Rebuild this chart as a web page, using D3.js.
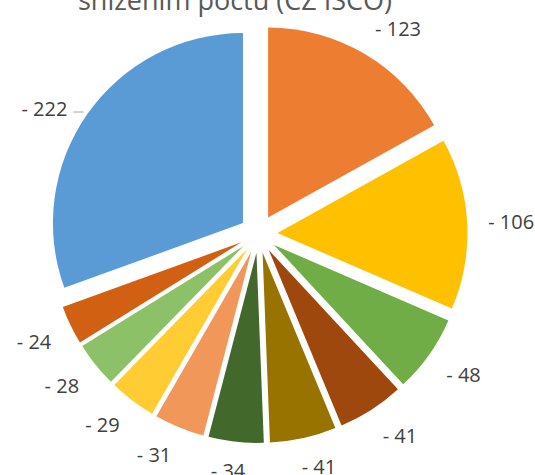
<!DOCTYPE html>
<html>
<head>
<meta charset="utf-8">
<script src="https://cdn.jsdelivr.net/npm/d3@7"></script>
<style>
  html, body { margin: 0; padding: 0; background: #fff; }
  svg { display: block; }
</style>
</head>
<body>
<svg id="chart" width="535" height="475"></svg>
<script>
// ---- data ----
const categories = ["K1", "K2", "K3", "K4", "K5", "K6", "K7", "K8", "K9", "K10", "K11"];
const values = [123, 106, 48, 41, 41, 34, 31, 29, 28, 24, 222];
const colors = ["#ED7D31", "#FFC000", "#70AD47", "#9E480E", "#997300", "#43682B",
                "#F1975A", "#FFCD33", "#8CC168", "#D26012", "#5B9BD5"];
const titleText = "snížením počtu (CZ ISCO)";

// ---- layout ----
const W = 535, H = 475;
const cx = 258.5, cy = 234;
const R = 190;
const explode = 19;
const labelGap = 21;

const svg = d3.select("#chart");

svg.append("text")
  .attr("x", 235).attr("y", 10)
  .attr("text-anchor", "middle")
  .attr("font-family", "'Open Sans', sans-serif")
  .attr("font-size", 27)
  .attr("fill", "#595959")
  .text(titleText);

const data = categories.map((c, i) => ({ cat: c, value: values[i], color: colors[i] }));
const pie = d3.pie().sort(null).value(d => d.value).startAngle(0).endAngle(2 * Math.PI);
const arcs = pie(data);
const arc = d3.arc().innerRadius(0).outerRadius(R);

const g = svg.append("g").attr("transform", `translate(${cx},${cy})`);

arcs.forEach(a => {
  const mid = (a.startAngle + a.endAngle) / 2;
  a.ux = Math.sin(mid);
  a.uy = -Math.cos(mid);
  a.ox = a.ux * explode;
  a.oy = a.uy * explode;
});

g.selectAll("path.slice")
  .data(arcs)
  .join("path")
  .attr("class", "slice")
  .attr("transform", d => `translate(${d.ox},${d.oy})`)
  .attr("d", arc)
  .attr("fill", d => d.data.color);

const clamp = v => Math.max(-1, Math.min(1, v));
const maxVal = d3.max(values);

arcs.forEach(a => {
  const t = g.append("text")
    .attr("font-family", "'Open Sans', sans-serif")
    .attr("font-size", 20)
    .attr("fill", "#404040")
    .text("- " + a.data.value);
  const bb = t.node().getBBox();
  const w = bb.width, h = 15;
  const px = a.ox + a.ux * (R + labelGap);
  const py = a.oy + a.uy * (R + labelGap);
  const fx = clamp(a.ux * 3), fy = clamp(a.uy * 3);
  let bx = px + fx * w / 2;
  let by = py + fy * h / 2;
  if (a.data.value === maxVal) {
    // label with leader line
    const mx = a.ox + a.ux * R, my = a.oy + a.uy * R;
    bx = mx - 20 - w / 2;
    by = my - 6;
    g.append("line")
      .attr("x1", bx + w / 2 + 6).attr("x2", bx + w / 2 + 16)
      .attr("y1", by + 4).attr("y2", by + 4)
      .attr("stroke", "#A6A6A6").attr("stroke-width", 1);
  }
  t.attr("x", bx).attr("y", by)
    .attr("text-anchor", "middle")
    .attr("dominant-baseline", "central");
});
</script>
</body>
</html>
